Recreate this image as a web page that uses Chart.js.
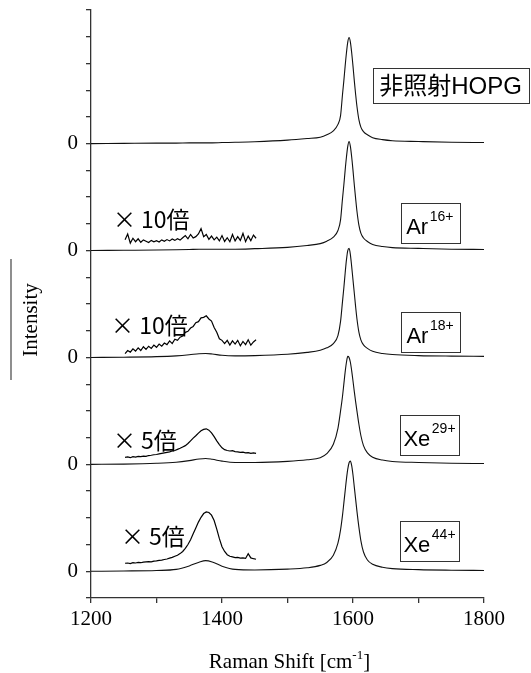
<!DOCTYPE html>
<html>
<head>
<meta charset="utf-8">
<script src="https://cdn.jsdelivr.net/npm/chart.js@4.4.1/dist/chart.umd.min.js"></script>
<style>
  html, body { margin: 0; padding: 0; background: #fff; }
  #wrap { position: relative; width: 531px; height: 673px; }
</style>
</head>
<body>
<div id="wrap"><canvas id="c"></canvas></div>
<script>
// Raman shift grid of the full spectra [cm^-1]
const shift = [1200,1250,1300,1330,1350,1365,1375,1385,1400,1420,1450,1500,1530,
  1550,1560,1570,1577,1581,1584,1586,1588,1590,1592,1594,1596,1598,1600,1602,1604,1606,
  1609,1612,1616,1622,1630,1645,1660,1700,1750,1800];

// Intensities (arb. units, one axis tick = 1) above each spectrum's own zero
const hopg = [0,0.01,0.02,0.02,0.03,0.03,0.03,0.03,0.04,0.05,0.07,0.13,0.19,
  0.24,0.33,0.48,0.72,1.05,1.85,2.35,2.9,3.4,3.8,3.97,3.8,3.4,2.9,2.35,1.85,1.4,
  0.9,0.62,0.45,0.33,0.22,0.15,0.11,0.08,0.05,0.04];
const ar16 = [0,0.01,0.02,0.03,0.04,0.05,0.05,0.05,0.05,0.05,0.07,0.12,0.19,
  0.26,0.35,0.5,0.75,1.15,1.95,2.45,3.0,3.5,3.9,4.08,3.9,3.5,3.0,2.45,1.95,1.48,
  0.95,0.65,0.47,0.34,0.23,0.15,0.11,0.08,0.05,0.04];
const ar18 = [0,0.01,0.03,0.06,0.1,0.14,0.15,0.13,0.08,0.06,0.07,0.12,0.19,
  0.27,0.36,0.52,0.82,1.35,2.1,2.6,3.15,3.65,4.0,4.08,3.85,3.4,2.9,2.4,1.9,1.45,
  0.95,0.66,0.47,0.34,0.23,0.15,0.11,0.07,0.05,0.04];
const xe29 = [0,0.01,0.04,0.08,0.14,0.2,0.22,0.19,0.12,0.07,0.07,0.11,0.17,
  0.25,0.4,0.75,1.35,2.0,2.55,3.0,3.45,3.82,4.04,4.0,3.82,3.5,3.12,2.72,2.35,2.0,
  1.5,1.08,0.7,0.43,0.27,0.16,0.11,0.07,0.04,0.03];
const xe44 = [0,0.01,0.03,0.07,0.2,0.34,0.4,0.35,0.19,0.07,0.05,0.08,0.13,
  0.22,0.33,0.6,1.05,1.55,2.1,2.55,3.0,3.45,3.82,4.06,4.12,3.95,3.6,3.15,2.7,2.25,
  1.65,1.15,0.72,0.42,0.26,0.15,0.1,0.06,0.04,0.03];

// Magnified D-band region
const zoomShift = [1252,1256,1260,1264,1268,1272,1276,1280,1284,1288,
  1292,1296,1300,1304,1308,1312,1316,1320,1324,1328,
  1332,1336,1340,1344,1348,1352,1356,1360,1364,1368,
  1372,1376,1380,1384,1388,1392,1396,1400,1404,1408,
  1412,1416,1420,1424,1428,1432,1436,1440,1444,1448,1452];
const ar16x10 = [0.40,0.62,0.28,0.46,0.33,0.44,0.31,0.40,0.35,0.30,
  0.38,0.33,0.37,0.32,0.40,0.35,0.41,0.36,0.43,0.38,
  0.44,0.39,0.48,0.56,0.44,0.60,0.47,0.52,0.62,0.82,
  0.52,0.60,0.42,0.54,0.40,0.50,0.36,0.56,0.34,0.48,
  0.33,0.60,0.36,0.52,0.38,0.64,0.33,0.54,0.37,0.58,0.46];
const ar18x10 = [0.14,0.26,0.20,0.32,0.24,0.36,0.26,0.40,0.30,0.42,
  0.34,0.46,0.38,0.50,0.42,0.54,0.48,0.62,0.52,0.68,
  0.64,0.76,0.80,0.94,0.98,1.10,1.16,1.30,1.34,1.48,
  1.50,1.56,1.44,1.36,1.12,0.94,0.70,0.64,0.52,0.64,
  0.46,0.62,0.50,0.64,0.44,0.60,0.48,0.66,0.46,0.58,0.66];
const xe29x5 = [0.26,0.28,0.25,0.29,0.27,0.30,0.29,0.31,0.30,0.33,
  0.34,0.36,0.37,0.39,0.41,0.43,0.45,0.47,0.50,0.52,
  0.56,0.60,0.65,0.70,0.78,0.88,0.98,1.07,1.17,1.26,
  1.31,1.33,1.28,1.18,1.04,0.88,0.74,0.62,0.55,0.52,
  0.50,0.51,0.48,0.47,0.45,0.46,0.43,0.44,0.41,0.43,0.41];
const xe44x5 = [0.30,0.31,0.29,0.32,0.31,0.33,0.32,0.34,0.35,0.36,
  0.35,0.38,0.39,0.41,0.42,0.44,0.46,0.49,0.52,0.56,
  0.60,0.66,0.74,0.86,1.00,1.18,1.40,1.62,1.84,2.02,
  2.16,2.22,2.20,2.10,1.90,1.58,1.22,0.92,0.74,0.62,
  0.56,0.54,0.51,0.52,0.49,0.50,0.48,0.66,0.50,0.47,0.45];

// Vertical stacking: zero line of each spectrum
const offsets = [16, 12, 8, 4, 0];
const sampleNames = ['非照射HOPG', 'Ar', 'Ar', 'Xe', 'Xe'];
const chargeStates = ['', '16+', '18+', '29+', '44+'];
const gainLabels = ['× 10倍', '× 10倍', '× 5倍', '× 5倍'];
const xTickLabels = [1200, 1400, 1600, 1800];

const spectra = [hopg, ar16, ar18, xe29, xe44];
const magnified = [ar16x10, ar18x10, xe29x5, xe44x5];

const datasets = [];
spectra.forEach((vals, i) => {
  datasets.push({
    data: shift.map((s, k) => ({ x: s, y: vals[k] + offsets[i] })),
    borderColor: '#111', borderWidth: 1.1, pointRadius: 0,
    cubicInterpolationMode: 'monotone', fill: false
  });
});
magnified.forEach((vals, i) => {
  datasets.push({
    data: zoomShift.map((s, k) => ({ x: s, y: vals[k] + offsets[i + 1] })),
    borderColor: '#000', borderWidth: 1.2, pointRadius: 0, tension: 0, fill: false
  });
});

const SERIF = '"Liberation Serif", "Times New Roman", serif';
const SANS = '"Liberation Sans", Arial, "Noto Sans CJK JP", sans-serif';
const CJK = '"Noto Sans CJK JP", "Noto Sans CJK SC", sans-serif';

// label placement: gain labels (left x in cm^-1, baseline in axis units)
const gainPos = [
  { x: 1233.5, y: 12.86 },
  { x: 1230.5, y: 8.88 },
  { x: 1233.5, y: 4.56 },
  { x: 1245.7, y: 0.98 }
];
// sample boxes (centre in data units)
const boxPos = [
  { x: 1748.9, y: 18.18, w: 155.6, h: 35 },
  { x: 1717.2, y: 13.04, w: 58.5, h: 39.5 },
  { x: 1717.6, y: 8.97, w: 58.5, h: 39.5 },
  { x: 1716.8, y: 5.11, w: 58.5, h: 39.5 },
  { x: 1716.8, y: 1.15, w: 58.5, h: 39.5 }
];

const annotations = {
  id: 'annotations',
  afterDraw(chart) {
    const { ctx, chartArea, scales: { x, y } } = chart;
    ctx.save();
    ctx.fillStyle = '#000';
    ctx.textBaseline = 'alphabetic';

    // magnification labels
    ctx.font = '23px ' + CJK;
    ctx.textAlign = 'left';
    gainLabels.forEach((t, i) => {
      ctx.fillText(t, x.getPixelForValue(gainPos[i].x), y.getPixelForValue(gainPos[i].y));
    });

    // sample name boxes
    ctx.strokeStyle = '#333';
    ctx.lineWidth = 1;
    sampleNames.forEach((name, i) => {
      const b = boxPos[i];
      const cx = x.getPixelForValue(b.x), cy = y.getPixelForValue(b.y);
      const left = cx - b.w / 2, top = cy - b.h / 2;
      ctx.strokeRect(Math.round(left) + 0.5, Math.round(top) + 0.5, Math.round(b.w), Math.round(b.h));
      const mainFont = (i === 0 ? '24px ' : '22px ') + SANS;
      const supFont = '14px ' + SANS;
      ctx.font = mainFont;
      const mw = ctx.measureText(name).width;
      let sw = 0;
      if (chargeStates[i]) { ctx.font = supFont; sw = ctx.measureText(chargeStates[i]).width + 1.5; }
      const tx = cx - (mw + sw) / 2;
      const base = top + b.h - (i === 0 ? 9 : 8.5);
      ctx.font = mainFont;
      ctx.fillText(name, tx, base);
      if (chargeStates[i]) {
        ctx.font = supFont;
        ctx.fillText(chargeStates[i], tx + mw + 1.5, base - 12.5);
      }
    });

    // x axis title with superscript
    const t1 = 'Raman Shift [cm', t2 = '-1', t3 = ']';
    ctx.font = '21px ' + SERIF;
    const w1 = ctx.measureText(t1).width, w3 = ctx.measureText(t3).width;
    ctx.font = '13px ' + SERIF;
    const w2 = ctx.measureText(t2).width;
    const xc = (chartArea.left + chartArea.right) / 2 + 2;
    const xb = chartArea.bottom + 70;
    let xs = xc - (w1 + w2 + w3) / 2;
    ctx.font = '21px ' + SERIF;
    ctx.fillText(t1, xs, xb);
    ctx.font = '13px ' + SERIF;
    ctx.fillText(t2, xs + w1, xb - 9);
    ctx.font = '21px ' + SERIF;
    ctx.fillText(t3, xs + w1 + w2, xb);

    // y axis title with overline
    const yc = chartArea.top + 310;
    ctx.save();
    ctx.translate(chartArea.left - 54.5, yc);
    ctx.rotate(-Math.PI / 2);
    ctx.textAlign = 'center';
    ctx.font = '21px ' + SERIF;
    ctx.fillText('Intensity', 0, 0);
    ctx.restore();
    ctx.strokeStyle = '#444';
    ctx.lineWidth = 1.2;
    ctx.beginPath();
    ctx.moveTo(chartArea.left - 80, yc - 61);
    ctx.lineTo(chartArea.left - 80, yc + 60);
    ctx.stroke();
    ctx.restore();
  }
};

new Chart(document.getElementById('c'), {
  type: 'line',
  data: { datasets },
  options: {
    responsive: true,
    maintainAspectRatio: false,
    animation: false,
    devicePixelRatio: 1,
    layout: { padding: { left: 0, right: 47, top: 10, bottom: 0 } },
    plugins: { legend: { display: false }, tooltip: { enabled: false } },
    scales: {
      x: {
        type: 'linear', min: 1200, max: 1800,
        ticks: {
          stepSize: 100, autoSkip: false, maxRotation: 0, padding: 4, color: '#000',
          font: { family: SERIF, size: 21 },
          callback: v => xTickLabels.includes(v) ? String(v) : ''
        },
        grid: { drawOnChartArea: false, drawTicks: true, tickLength: 5, tickColor: '#333', lineWidth: 1.3 },
        border: { display: true, color: '#333', width: 1.3 },
        afterFit(s) { s.height = 75; s.paddingLeft = 0; s.paddingRight = 0; }
      },
      y: {
        type: 'linear', min: -1, max: 21,
        ticks: {
          stepSize: 1, autoSkip: false, padding: 8, color: '#000',
          font: { family: SERIF, size: 21 },
          callback: v => offsets.includes(v) ? '0' : ''
        },
        grid: { drawOnChartArea: false, drawTicks: true, tickLength: 5, tickColor: '#333', lineWidth: 1.3 },
        border: { display: true, color: '#333', width: 1.3 },
        afterFit(s) { s.width = 91; s.paddingTop = 0; s.paddingBottom = 0; }
      }
    }
  },
  plugins: [annotations]
});
</script>
</body>
</html>
